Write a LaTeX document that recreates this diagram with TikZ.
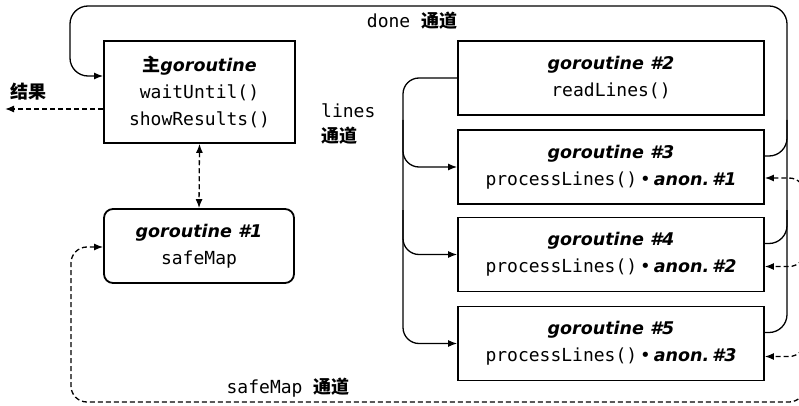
\documentclass[tikz,border=0pt]{standalone}
\usepackage{fontspec}
\setmainfont{DejaVu Sans}
\newfontfamily\codefont{DejaVu Sans Mono}
\newfontfamily\titlefont{DejaVu Sans}
\newfontfamily\cjkfont{Noto Sans CJK SC}
\usetikzlibrary{arrows.meta}
\newcommand{\ttl}[1]{{\titlefont\fontsize{17.5}{27}\selectfont\bfseries\itshape #1}}
\newcommand{\cjk}[1]{{\cjkfont\bfseries #1}}
\newcommand{\bul}{{\fontspec{DejaVu Sans}\char"2022}}
\begin{document}
\begin{tikzpicture}[x=1pt,y=-1pt,
  box/.style={draw, line width=1.8pt, fill=white, align=center, inner sep=0pt,
    font=\codefont\fontsize{18}{27}\selectfont},
  gbox/.style={box, minimum width=306pt, minimum height=74pt},
  lbl/.style={inner sep=0pt, font=\codefont\fontsize{18}{25}\selectfont},
  conn/.style={line width=1.3pt},
  dconn/.style={line width=1.3pt, dash pattern=on 5pt off 3pt},
  tip/.style={-{Latex[length=9pt,width=7pt]}},
  btip/.style={{Latex[length=9pt,width=7pt]}-{Latex[length=9pt,width=7pt]}}
]
\useasboundingbox (0,0) rectangle (799,406);

% boxes
\node[box, minimum width=191pt, minimum height=102pt] (main) at (199.5,92)
  {\cjk{主}\ttl{goroutine}\\waitUntil()\\showResults()};
\node[box, rounded corners=9pt, minimum width=190pt, minimum height=74pt] (g1) at (199,246)
  {\ttl{goroutine \#1}\\safeMap};
\node[gbox] (g2) at (611,78) {\ttl{goroutine \#2}\\readLines()};
\node[gbox] (g3) at (611,167) {\ttl{goroutine \#3}\\processLines()\,\bul\,\ttl{anon.\,\#1}};
\node[gbox] (g4) at (611,254.5) {\ttl{goroutine \#4}\\processLines()\,\bul\,\ttl{anon.\,\#2}};
\node[gbox] (g5) at (611,343.5) {\ttl{goroutine \#5}\\processLines()\,\bul\,\ttl{anon.\,\#3}};

% labels
\node[lbl] (donelbl) at (412,21) {done \cjk{通道}};
\node[lbl, anchor=west, align=left] (lineslbl) at (321,124) {lines\\\cjk{通道}};
\node[lbl] (smlbl) at (288,388) {safeMap \cjk{通道}};
\node[lbl] (reslbl) at (28,92) {\cjk{结果}};
\coordinate (res) at (5,109);

% done channel
\draw[conn, tip, rounded corners=18pt] ([yshift=11pt]g5.east) -| (787,6) -- (70,6) |- ([yshift=16pt]main.west);
\draw[conn, rounded corners=18pt] ([yshift=11pt]g3.east) -| (787,120);
\draw[conn, rounded corners=18pt] ([yshift=11pt]g4.east) -| (787,210);

% lines channel
\draw[conn, tip, rounded corners=16pt] (g2.west) -| (403,200) |- (g5.west);
\draw[conn, tip, rounded corners=16pt] (403,120) |- (g3.west);
\draw[conn, tip, rounded corners=16pt] (403,210) |- (g4.west);

% safeMap channel
\draw[dconn, btip, rounded corners=16pt] ([yshift=-11pt]g3.east) -| (805,402) -| (71,300) |- ([yshift=-1pt]g1.west);
\draw[dconn, tip, rounded corners=16pt] (805,220) |- ([yshift=-12pt]g4.east);
\draw[dconn, tip, rounded corners=16pt] (805,310) |- ([yshift=-13pt]g5.east);

% main <-> g1, results
\draw[dconn, btip] (main.south) -- (g1.north);
\draw[dconn, tip] ([yshift=-17pt]main.west) -- (res);
\end{tikzpicture}
\end{document}
